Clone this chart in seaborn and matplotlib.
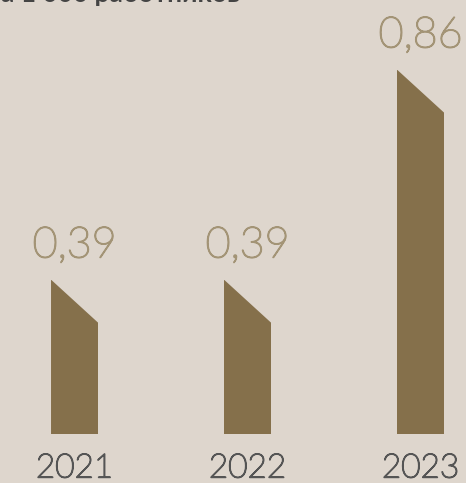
import matplotlib
matplotlib.use("Agg")
import matplotlib.pyplot as plt
import matplotlib.patheffects as pe
from matplotlib.patches import Polygon
import pandas as pd
import seaborn as sb

anos = ['2021', '2022', '2023']
valores = [0.39, 0.39, 0.86]
rotulos = ['0,39', '0,39', '0,86']
titulo = 'на 1 000 работников'

fundo = '#ded6cd'
cor_barra = '#85704b'
cor_rotulo = '#a39476'
cor_ano = '#555555'

sb.set_theme(style="white")
plt.rcParams['font.family'] = ['Lato', 'DejaVu Sans']

df = pd.DataFrame({'ano': anos, 'valor': valores})

fig = plt.figure(figsize=(4.66, 4.83), dpi=100, facecolor=fundo)
ax = fig.add_axes([0, 49 / 483, 1, 434 / 483])
ax.set_facecolor(fundo)

sb.barplot(data=df, x='ano', y='valor', color=cor_barra, width=0.272,
           saturation=1, ax=ax)

ax.set_xlim(-0.431, 2.263)
ax.set_ylim(0.0447, 1.0157)

# corte diagonal no topo de cada barra
corte = 43 / 447
for barra in ax.patches:
    x0 = barra.get_x()
    x1 = x0 + barra.get_width()
    topo = barra.get_height()
    forma = Polygon([(x0, 0), (x0, topo), (x1, topo - corte), (x1, 0)],
                    closed=True, transform=ax.transData)
    barra.set_clip_path(forma)
    barra.set_linewidth(0)

# traço fino engrossado um pouco
grosso = [pe.withStroke(linewidth=1.1, foreground=cor_rotulo)]
for i, (v, r) in enumerate(zip(valores, rotulos)):
    ax.annotate(r, (i, v), xytext=(0, 16), textcoords='offset points',
                ha='center', va='baseline', fontsize=31, fontweight='light',
                color=cor_rotulo, path_effects=grosso)

for s in ax.spines.values():
    s.set_visible(False)
ax.set_yticks([])
ax.set_xlabel('')
ax.set_ylabel('')
ax.tick_params(axis='x', length=0, pad=14, labelsize=24, labelcolor=cor_ano)
for t in ax.get_xticklabels():
    t.set_fontweight('light')
    t.set_path_effects([pe.withStroke(linewidth=1.1, foreground=cor_ano)])

fig.text(-0.03, 1 - 2 / 483, titulo, ha='left', va='baseline',
         fontsize=19, fontweight='bold', color='#444444')

fig.savefig('out.png', dpi=100, facecolor=fundo)
